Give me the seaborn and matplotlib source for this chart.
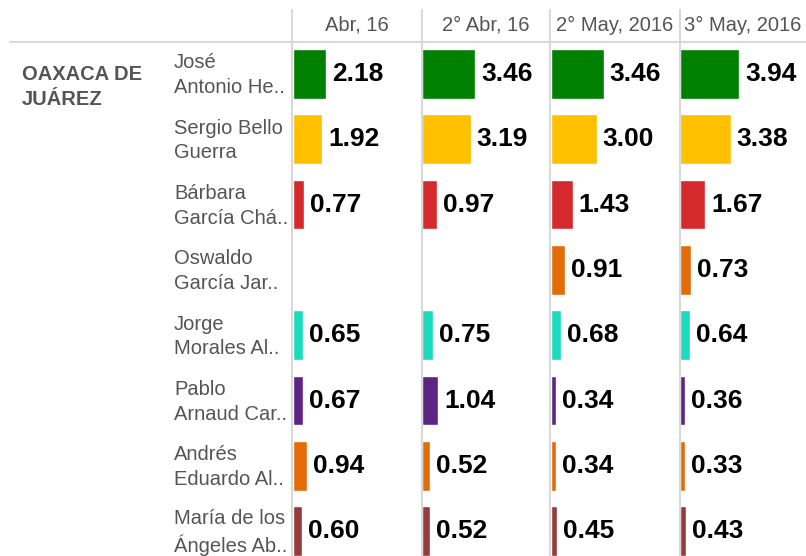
import numpy as np
import pandas as pd
import matplotlib
matplotlib.use("Agg")
import matplotlib.pyplot as plt
from matplotlib.lines import Line2D
from matplotlib.transforms import blended_transform_factory
import seaborn as sns

# ---- data -------------------------------------------------------------
region = "OAXACA DE\nJUÁREZ"
candidates = [
    "José\nAntonio He..",
    "Sergio Bello\nGuerra",
    "Bárbara\nGarcía Chá..",
    "Oswaldo\nGarcía Jar..",
    "Jorge\nMorales Al..",
    "Pablo\nArnaud Car..",
    "Andrés\nEduardo Al..",
    "María de los\nÁngeles Ab..",
]
periods = ["Abr, 16", "2° Abr, 16", "2° May, 2016", "3° May, 2016"]
abr_16 = [2.18, 1.92, 0.77, np.nan, 0.65, 0.67, 0.94, 0.60]
abr2_16 = [3.46, 3.19, 0.97, np.nan, 0.75, 1.04, 0.52, 0.52]
may2_2016 = [3.46, 3.00, 1.43, 0.91, 0.68, 0.34, 0.34, 0.45]
may3_2016 = [3.94, 3.38, 1.67, 0.73, 0.64, 0.36, 0.33, 0.43]
colors = ["#008000", "#FFC000", "#D42A2E", "#E36C09",
          "#1ADBBB", "#5E2483", "#E36C09", "#963A3A"]

series = [abr_16, abr2_16, may2_2016, may3_2016]
df = pd.DataFrame(
    [(p, c, v) for p, vals in zip(periods, series) for c, v in zip(candidates, vals)],
    columns=["periodo", "candidato", "valor"],
)
palette = dict(zip(candidates, colors))

# ---- layout (pixel based) --------------------------------------------
W, H = 806, 556
sns.set_theme(style="white")
plt.rcParams["font.family"] = ["Liberation Sans", "DejaVu Sans"]

fig = plt.figure(figsize=(W / 100, H / 100), dpi=100)
fig.patch.set_facecolor("white")

col_left = [292.5, 422, 550.5, 680]
col_right = [421.5, 550, 679.5, 806]
top_px = 42
row_px = 65.3
first_center = 74
y_top = -(first_center - top_px) / row_px
y_bot = (H - first_center) / row_px

grid_c = "#d9d9d9"
text_c = "#555555"

axes = []
for i, (p, vals) in enumerate(zip(periods, series)):
    l, r = col_left[i], col_right[i]
    ax = fig.add_axes([l / W, 0, (r - l) / W, (H - top_px) / H])
    sub = df[df["periodo"] == p]
    sns.barplot(data=sub, x="valor", y="candidato", hue="candidato",
                order=candidates, hue_order=candidates, palette=palette,
                orient="h", width=0.76, errorbar=None, legend=False,
                saturation=1, ax=ax)
    ax.set_xlim(0, 129 / 15.4)
    ax.set_ylim(y_bot, y_top)
    ax.set_axis_off()
    for j, v in enumerate(vals):
        if np.isnan(v):
            continue
        ax.annotate(f"{v:.2f}", xy=(v, j), xytext=(6, 0),
                    textcoords="offset pixels", ha="left", va="center",
                    fontsize=19, fontweight="bold", color="black")
    fig.text(((l + r) / 2) / W, 1 - 25 / H, p, ha="center", va="center",
             fontsize=14.5, color=text_c)
    axes.append(ax)

# candidate names, aligned to the bar rows
tr = blended_transform_factory(fig.transFigure, axes[0].transData)
for j, name in enumerate(candidates):
    axes[0].text(174 / W, j + 0.02, name, transform=tr, ha="left",
                 va="center", fontsize=14.5, color=text_c, linespacing=1.38,
                 clip_on=False)

# region label
fig.text(22 / W, 1 - 65 / H, region, ha="left", va="top", fontsize=14.5,
         fontweight="bold", color=text_c, linespacing=1.38)

# grid lines: header rule and column dividers
fig.add_artist(Line2D([10 / W, 1], [1 - top_px / H] * 2,
                      transform=fig.transFigure, color=grid_c, lw=1.5))
for x in [292, 421.5, 550, 679.5]:
    fig.add_artist(Line2D([x / W] * 2, [0, 1 - 10 / H],
                          transform=fig.transFigure, color=grid_c, lw=1.5))

fig.savefig("out.png", dpi=100, facecolor="white")
